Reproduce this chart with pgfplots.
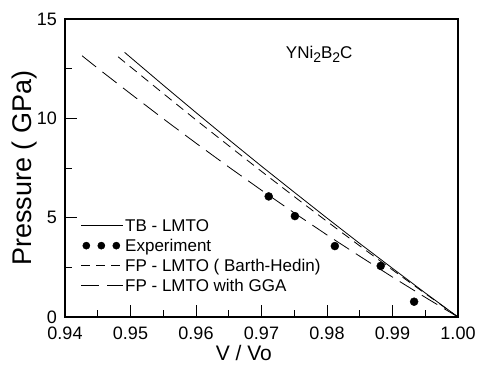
\documentclass[border=0pt]{standalone}
\usepackage{fontspec}
\setmainfont{Liberation Sans}
\usepackage{pgfplots}
\pgfplotsset{compat=1.18}
\begin{document}
\begin{tikzpicture}
\begin{axis}[
  scale only axis, width=393pt, height=298pt,
  xmin=0.94, xmax=1.0, ymin=0, ymax=15,
  xtick={0.94,0.95,0.96,0.97,0.98,0.99,1.00},
  xticklabels={0.94,0.95,0.96,0.97,0.98,0.99,1.00},
  ytick={0,5,10,15},
  minor tick num=1,
  tick pos=left,
  tick align=inside,
  major tick length=12pt, minor tick length=7pt,
  tick style={line width=0.9pt, black},
  axis line style={line width=1.1pt},
  /pgf/number format/assume math mode=true,
  tick label style={font=\fontsize{18}{20}\selectfont, inner sep=0pt},
  xticklabel style={yshift=-10pt},
  yticklabel style={xshift=-8pt},
  xlabel={V / Vo},
  ylabel={Pressure ( GPa)},
  xlabel style={at={(axis description cs:0.455,-0.145)}, anchor=base, inner sep=0pt, font=\fontsize{21}{24}\selectfont},
  ylabel style={at={(axis description cs:-0.084,0.5)}, anchor=base, inner sep=0pt, font=\fontsize{27}{30}\selectfont},
  legend style={draw=none, fill=none, at={(axis description cs:0.04,0.334)}, anchor=north west,
    font=\fontsize{17}{20.5}\selectfont, row sep=3.2pt, inner sep=0pt,
    nodes={inner sep=1.5pt}},
  legend cell align=left,
  legend image code/.code={\draw[#1] (0pt,0pt) -- (42pt,0pt);},
]
\addplot[black, line width=0.8pt] table {
0.9491 13.32
0.955 11.67
0.960 10.29
0.965 8.93
0.970 7.59
0.975 6.28
0.980 4.98
0.985 3.70
0.990 2.45
0.995 1.21
1.000 0
};
\addlegendentry{TB - LMTO}
\addplot[only marks, mark=*, mark size=4pt, black,
  legend image code/.code={\fill (5pt,0) circle (3.6pt) (20pt,0) circle (3.6pt) (35pt,0) circle (3.6pt);}] table {
0.9711 6.07
0.9751 5.08
0.9812 3.57
0.9882 2.57
0.9933 0.77
};
\addlegendentry{Experiment}
\addplot[black, line width=0.8pt, dash pattern=on 9pt off 6pt] table {
0.9481 13.10
0.955 11.25
0.960 9.92
0.965 8.62
0.970 7.33
0.975 6.06
0.980 4.81
0.985 3.58
0.990 2.37
0.995 1.18
1.000 0
};
\addlegendentry{FP - LMTO ( Barth-Hedin)}
\addplot[black, line width=0.8pt, dash pattern=on 18pt off 8pt] table {
0.9426 13.15
0.945 12.52
0.950 11.24
0.955 9.98
0.960 8.75
0.965 7.55
0.970 6.38
0.975 5.24
0.980 4.13
0.985 3.06
0.990 2.01
0.995 0.99
1.000 0
};
\addlegendentry{FP - LMTO with GGA}
\node[anchor=base west, font=\fontsize{17}{19}\selectfont, inner sep=0pt] at (axis cs:0.9737,13.03) {YNi\raisebox{-0.45ex}{\fontsize{14}{14}\selectfont 2}B\raisebox{-0.45ex}{\fontsize{14}{14}\selectfont 2}C};
\end{axis}
\pgfresetboundingbox
\path (current axis.south west) ++(-65pt,-53pt) coordinate (A);
\path (current axis.north east) ++(21pt,19pt) coordinate (B);
\useasboundingbox (A) rectangle (B);
\end{tikzpicture}
\end{document}
